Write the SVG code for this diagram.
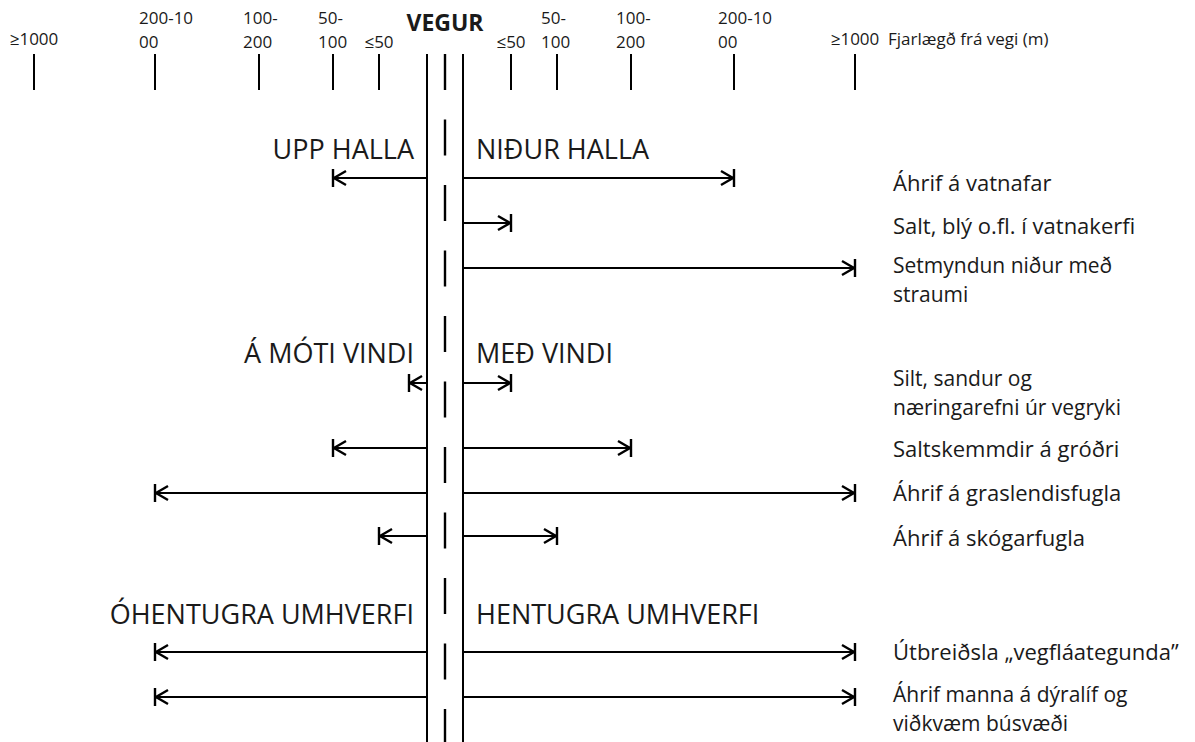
<svg xmlns="http://www.w3.org/2000/svg" width="1195" height="742" viewBox="0 0 1195 742">
<style>
text{font-family:"Open Sans","Noto Sans",sans-serif;fill:#1a1a1a}
.tk{font-size:17px}
.hd{font-size:27px}
.lb{font-size:22px}
.lb2{font-size:21px}
.vg{font-size:23px;font-weight:bold}
.ln{stroke:#000;stroke-width:2;fill:none}
.ar{stroke:#000;stroke-width:2;fill:none;marker-end:url(#bar)}
</style>
<defs>
<marker id="bar" viewBox="-15 -11 17 22" refX="0" refY="0" markerWidth="17" markerHeight="22" markerUnits="userSpaceOnUse" orient="auto">
<path d="M-13 -7 L-1 0 L-13 7 M0 -9 V9" stroke="#000" stroke-width="2.4" fill="none"/>
</marker>
</defs>
<rect width="1195" height="742" fill="#fff"/>
<g id="scale">
<g class="ln">
<line x1="34" y1="54" x2="34" y2="90"/>
<line x1="155" y1="54" x2="155" y2="90"/>
<line x1="259" y1="54" x2="259" y2="90"/>
<line x1="333" y1="54" x2="333" y2="90"/>
<line x1="379" y1="54" x2="379" y2="90"/>
<line x1="511" y1="54" x2="511" y2="90"/>
<line x1="557" y1="54" x2="557" y2="90"/>
<line x1="631" y1="54" x2="631" y2="90"/>
<line x1="734" y1="54" x2="734" y2="90"/>
<line x1="855" y1="54" x2="855" y2="90"/>
</g>
<text class="tk" x="34" y="45" text-anchor="middle">≥1000</text>
<text class="tk" x="139" y="24">200-10<tspan x="139" dy="24">00</tspan></text>
<text class="tk" x="243" y="24">100-<tspan x="243" dy="24">200</tspan></text>
<text class="tk" x="318" y="24">50-<tspan x="318" dy="24">100</tspan></text>
<text class="tk" x="379" y="48" text-anchor="middle">≤50</text>
<text class="tk" x="511" y="48" text-anchor="middle">≤50</text>
<text class="tk" x="541" y="24">50-<tspan x="541" dy="24">100</tspan></text>
<text class="tk" x="616" y="24">100-<tspan x="616" dy="24">200</tspan></text>
<text class="tk" x="718" y="24">200-10<tspan x="718" dy="24">00</tspan></text>
<text class="tk" x="855" y="45" text-anchor="middle">≥1000</text>
<text class="tk" x="888" y="45">Fjarlægð frá vegi (m)</text>
</g>
<g id="road">
<line class="ln" x1="427" y1="54" x2="427" y2="742"/>
<line class="ln" x1="463" y1="54" x2="463" y2="742"/>
<line x1="445" y1="54" x2="445" y2="742" stroke="#000" stroke-width="2.4" stroke-dasharray="36 29.5"/>
<text class="vg" x="445" y="31" text-anchor="middle">VEGUR</text>
</g>
<g id="headers">
<text class="hd" x="414" y="159" text-anchor="end">UPP HALLA</text>
<text class="hd" x="476" y="159">NIÐUR HALLA</text>
<text class="hd" x="414" y="363" text-anchor="end">Á MÓTI VINDI</text>
<text class="hd" x="476" y="363">MEÐ VINDI</text>
<text class="hd" x="414" y="624" text-anchor="end">ÓHENTUGRA UMHVERFI</text>
<text class="hd" x="476" y="624">HENTUGRA UMHVERFI</text>
</g>
<g id="connectors">
<line class="ar" x1="427" y1="178" x2="333" y2="178"/>
<line class="ar" x1="463" y1="178" x2="734" y2="178"/>
<line class="ar" x1="463" y1="223" x2="511" y2="223"/>
<line class="ar" x1="463" y1="268" x2="855" y2="268"/>
<line class="ar" x1="427" y1="383" x2="409" y2="383"/>
<line class="ar" x1="463" y1="383" x2="511" y2="383"/>
<line class="ar" x1="427" y1="448" x2="333" y2="448"/>
<line class="ar" x1="463" y1="448" x2="631" y2="448"/>
<line class="ar" x1="427" y1="493" x2="155" y2="493"/>
<line class="ar" x1="463" y1="493" x2="855" y2="493"/>
<line class="ar" x1="427" y1="536" x2="379" y2="536"/>
<line class="ar" x1="463" y1="536" x2="557" y2="536"/>
<line class="ar" x1="427" y1="652" x2="155" y2="652"/>
<line class="ar" x1="463" y1="652" x2="855" y2="652"/>
<line class="ar" x1="427" y1="697" x2="155" y2="697"/>
<line class="ar" x1="463" y1="697" x2="855" y2="697"/>
</g>
<g id="labels">
<text class="lb" x="893" y="191">Áhrif á vatnafar</text>
<text class="lb" x="893" y="234">Salt, blý o.fl. í vatnakerfi</text>
<text class="lb2" x="893" y="273">Setmyndun niður með</text>
<text class="lb2" x="893" y="302">straumi</text>
<text class="lb2" x="893" y="386">Silt, sandur og</text>
<text class="lb2" x="893" y="415">næringarefni úr vegryki</text>
<text class="lb" x="893" y="457">Saltskemmdir á gróðri</text>
<text class="lb" x="893" y="501">Áhrif á graslendisfugla</text>
<text class="lb" x="893" y="546">Áhrif á skógarfugla</text>
<text class="lb" x="893" y="660">Útbreiðsla „vegfláategunda”</text>
<text class="lb2" x="893" y="702">Áhrif manna á dýralíf og</text>
<text class="lb2" x="893" y="731">viðkvæm búsvæði</text>
</g>
</svg>
